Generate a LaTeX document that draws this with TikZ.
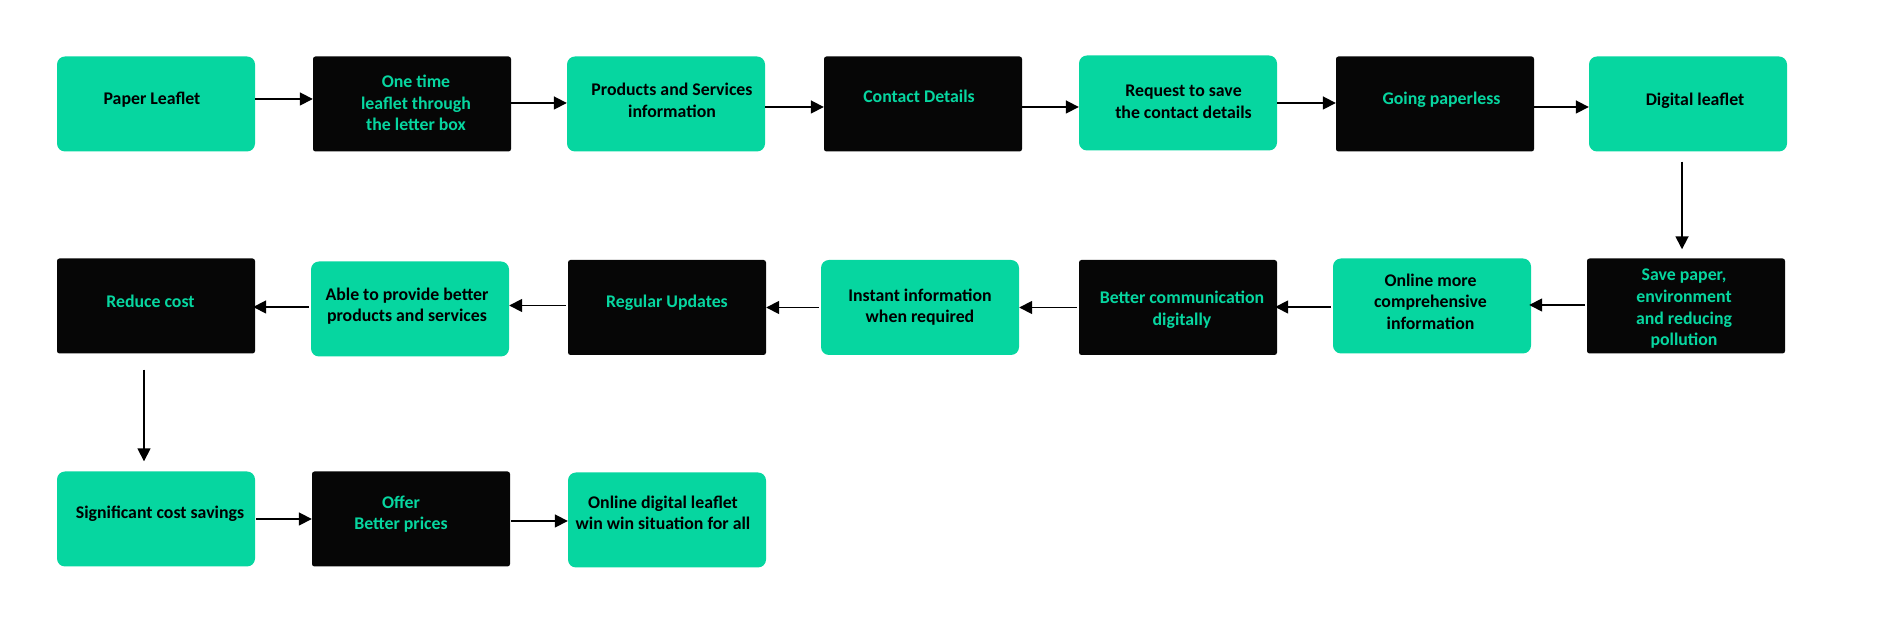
\documentclass[tikz,border=0pt]{standalone}
\usepackage{fontspec}
\setmainfont{Carlito}
\usetikzlibrary{arrows.meta,calc}
\definecolor{grn}{HTML}{06D6A0}
\definecolor{blk}{HTML}{060606}
% #1 = twice the horizontal shift, #2 = vertical lift, #3 = lines
\newcommand\bxtext[3]{\kern#1\raisebox{#2}[\height][\depth]{\begin{tabular}{@{}c@{}}#3\end{tabular}}}
\begin{document}
\begin{tikzpicture}[x=1pt,y=1pt,
  box/.style={minimum width=198pt,minimum height=95pt,inner sep=0pt,
    font=\fontsize{17.8}{21.6}\selectfont\bfseries},
  gbox/.style={box,fill=grn,rounded corners=8pt,text=black},
  kbox/.style={box,fill=blk,rounded corners=2.5pt,text=grn},
  arr/.style={line width=1.7pt,-{Triangle[length=13pt,width=13pt]}}]
\useasboundingbox (0,0) rectangle (1902,620);
% row 1
\node[gbox] (a1) at (156,516) {\bxtext{-8pt}{4pt}{Paper Leaflet}};
\node[kbox] (a2) at (412,516) {\bxtext{8pt}{-1pt}{One time\\leaflet through\\the letter box}};
\node[gbox] (a3) at (666,516) {\bxtext{12pt}{2pt}{Products and Services\\information}};
\node[kbox] (a4) at (923,516) {\bxtext{-8pt}{6pt}{Contact Details}};
\node[gbox] (a5) at (1178,517) {\bxtext{11pt}{0pt}{Request to save\\the contact details}};
\node[kbox] (a6) at (1435,516) {\bxtext{13pt}{4pt}{Going paperless}};
\node[gbox] (a7) at (1688,516) {\bxtext{14pt}{2.5pt}{Digital leaflet}};
% row 2
\node[kbox] (b1) at (156,314) {\bxtext{-11pt}{2.5pt}{Reduce cost}};
\node[gbox] (b2) at (410,311) {\bxtext{-6pt}{2.5pt}{Able to provide better\\products and services}};
\node[kbox] (b3) at (667,312.5) {\bxtext{0pt}{4.5pt}{Regular Updates}};
\node[gbox] (b4) at (920,312.5) {\bxtext{0pt}{0pt}{Instant information\\when required}};
\node[kbox] (b5) at (1178,312.5) {\bxtext{8pt}{-2.5pt}{Better communication\\digitally}};
\node[gbox] (b6) at (1432,314) {\bxtext{-3pt}{2.5pt}{Online more\\comprehensive\\information}};
\node[kbox] (b7) at (1686,314) {\bxtext{-4pt}{-3pt}{Save paper,\\environment\\and reducing\\pollution}};
% row 3
\node[gbox] (c1) at (156,101) {\bxtext{8pt}{5pt}{Significant cost savings}};
\node[kbox] (c2) at (411,101) {\bxtext{-20pt}{4.5pt}{Offer\\Better prices}};
\node[gbox] (c3) at (667,100) {\bxtext{-8pt}{5.5pt}{Online digital leaflet\\win win situation for all}};
% arrows row 1
\draw[arr] ([yshift=5pt]a1.east) -- ([yshift=5pt]a1.east -| a2.west);
\draw[arr] ([yshift=1pt]a2.east) -- ([yshift=1pt]a2.east -| a3.west);
\draw[arr] ([yshift=-3pt]a3.east) -- ([yshift=-3pt]a3.east -| a4.west);
\draw[arr] ([yshift=-3pt]a4.east) -- ([yshift=-3pt]a4.east -| a5.west);
\draw[arr] ([yshift=0pt]a5.east) -- ([yshift=0pt]a5.east -| a6.west);
\draw[arr] ([yshift=-3pt]a6.east) -- ([yshift=-3pt]a6.east -| a7.west);
% down
\coordinate (d1) at ($(a7.south)+(-6,-10)$);
\draw[arr] (d1) -- (d1 |- {$(b7.north)+(0,9)$});
% arrows row 2 (leftwards)
\draw[arr] ([xshift=-2pt,yshift=1pt]b7.west) -- ([xshift=-2pt,yshift=1pt]b7.west -| b6.east);
\draw[arr] ([xshift=-2pt,yshift=-1pt]b6.west) -- ([xshift=-2pt,yshift=-1pt]b6.west -| b5.east);
\draw[arr] ([xshift=-2pt]b5.west) -- (b5.west -| b4.east);
\draw[arr] ([xshift=-2pt]b4.west) -- (b4.west -| b3.east);
\draw[arr] ([xshift=-2pt,yshift=2pt]b3.west) -- ([yshift=2pt]b3.west -| b2.east);
\draw[arr] ([xshift=-2pt,yshift=2pt]b2.west) -- ([xshift=-2pt,yshift=2pt]b2.west -| b1.east);
% down
\coordinate (d2) at ($(b1.south)+(-12,-16)$);
\draw[arr] (d2) -- (d2 |- {$(c1.north)+(0,10)$});
% arrows row 3
\draw[arr] ([xshift=1pt]c1.east) -- (c1.east -| c2.west);
\draw[arr] ([xshift=1pt,yshift=-2pt]c2.east) -- ([yshift=-2pt]c2.east -| c3.west);
\end{tikzpicture}
\end{document}
